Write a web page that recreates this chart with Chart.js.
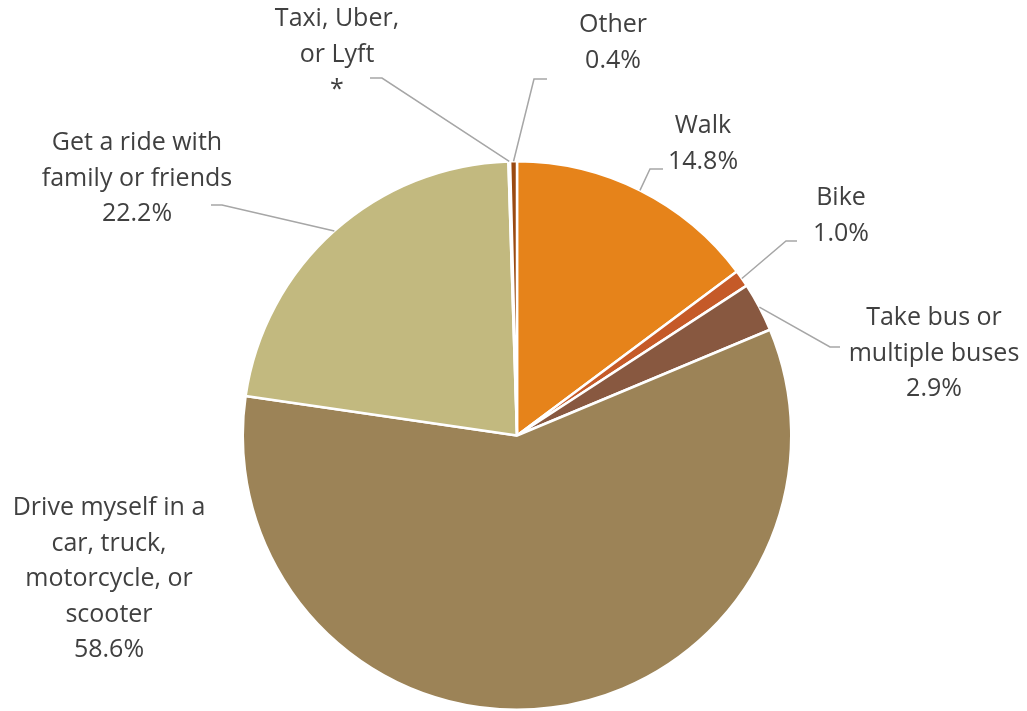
<!DOCTYPE html>
<html>
<head>
<meta charset="utf-8">
<script src="https://cdn.jsdelivr.net/npm/chart.js@4.4.1/dist/chart.umd.min.js"></script>
<style>
  html, body { margin: 0; padding: 0; background: #fff; }
  #wrap { width: 1027px; height: 711px; }
</style>
</head>
<body>
<div id="wrap"><canvas id="chart" width="1027" height="711"></canvas></div>
<script>
// slices, clockwise from 12 o'clock
const categories = [
  ['Walk'],
  ['Bike'],
  ['Take bus or', 'multiple buses'],
  ['Drive myself in a', 'car, truck,', 'motorcycle, or', 'scooter'],
  ['Get a ride with', 'family or friends'],
  ['Taxi, Uber,', 'or Lyft'],
  ['Other']
];
const shares = [14.8, 1.0, 2.9, 58.6, 22.2, 0.1, 0.4];
// value shown under the name; null = use the percentage
const valueNotes = [null, null, null, null, null, '*', null];
const sliceColors = ['#E6831A', '#C55A28', '#885840', '#9C8357', '#C2B97F', '#B07030', '#9A4A12'];

// label placement: text centre x, first line y, leader elbow and end
const labelLayout = [
  { x: 703, y: 126, elbow: [650, 169], end: [663, 169] },
  { x: 841, y: 198, elbow: [786, 241], end: [797, 241] },
  { x: 934, y: 318, elbow: [830, 347], end: [840, 347] },
  { x: 109, y: 508, elbow: null, end: null },
  { x: 137, y: 143, elbow: [222, 205], end: [211, 205] },
  { x: 337, y: 19, elbow: [382, 78], end: [370, 78] },
  { x: 613, y: 25, elbow: [534, 79], end: [547, 79] }
];

const FONT = '25px "Open Sans"';
const LINE_H = 35.5;

const pieLabels = {
  id: 'pieLabels',
  afterDatasetsDraw(chart) {
    const ctx = chart.ctx;
    const arcs = chart.getDatasetMeta(0).data;
    ctx.save();
    arcs.forEach((arc, i) => {
      const p = arc.getProps(['x', 'y', 'startAngle', 'endAngle', 'outerRadius'], true);
      const mid = (p.startAngle + p.endAngle) / 2;
      const ex = p.x + Math.cos(mid) * p.outerRadius;
      const ey = p.y + Math.sin(mid) * p.outerRadius;
      const lay = labelLayout[i];
      if (lay.elbow) {
        ctx.beginPath();
        ctx.strokeStyle = '#A6A6A6';
        ctx.lineWidth = 1.5;
        ctx.moveTo(ex, ey);
        ctx.lineTo(lay.elbow[0], lay.elbow[1]);
        ctx.lineTo(lay.end[0], lay.end[1]);
        ctx.stroke();
      }
      const v = valueNotes[i] !== null ? valueNotes[i] : shares[i].toFixed(1) + '%';
      const lines = categories[i].concat([v]);
      ctx.font = FONT;
      ctx.fillStyle = '#404040';
      ctx.textAlign = 'center';
      ctx.textBaseline = 'middle';
      lines.forEach((t, k) => ctx.fillText(t, lay.x, lay.y + k * LINE_H));
    });
    ctx.restore();
  }
};

new Chart(document.getElementById('chart'), {
  type: 'pie',
  data: {
    labels: categories,
    datasets: [{
      data: shares,
      backgroundColor: sliceColors,
      borderColor: '#ffffff',
      borderWidth: 2.5
    }]
  },
  options: {
    responsive: false,
    animation: false,
    events: [],
    layout: { padding: { top: 160, bottom: 0, left: 7, right: 0 } },
    plugins: {
      legend: { display: false },
      tooltip: { enabled: false }
    }
  },
  plugins: [pieLabels]
});
</script>
</body>
</html>
